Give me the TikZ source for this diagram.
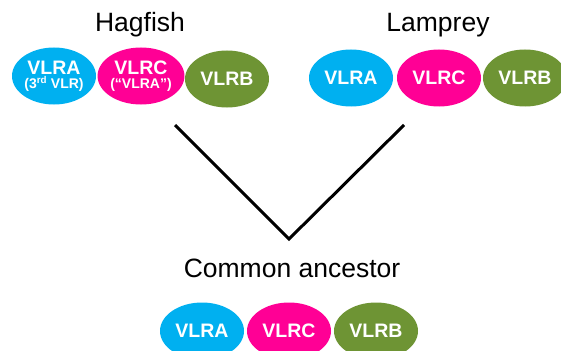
\documentclass[tikz,border=0pt]{standalone}
\usepackage{fontspec}
\setmainfont{Liberation Sans}
\usetikzlibrary{shapes.geometric}
\definecolor{vlracol}{HTML}{00B0F0}
\definecolor{vlrccol}{HTML}{FF0095}
\definecolor{vlrbcol}{HTML}{6E9434}
\tikzset{
  gene/.style={ellipse, inner sep=0pt, minimum width=84pt, minimum height=57pt,
    text=white, font=\fontsize{19.5}{17}\selectfont\bfseries, align=center},
  vlra/.style={gene, fill=vlracol},
  vlrc/.style={gene, fill=vlrccol},
  vlrb/.style={gene, fill=vlrbcol},
  taxon/.style={anchor=base, font=\fontsize{26.5}{28}\selectfont},
  x=1pt, y=-1pt
}
\newcommand{\smallline}[1]{{\fontsize{14}{14}\selectfont #1}}

\begin{document}
\begin{tikzpicture}
      \useasboundingbox (0,0) rectangle (561,350);

      % hagfish
      \node[taxon] (hag) at (140,32) {Hagfish};
      \node[vlra] (h1) at (54,76) {VLRA\\[-3pt]\smallline{(3\textsuperscript{rd} VLR)}};
      \node[vlrc] (h2) at (141,76) {VLRC\\[-3pt]\smallline{(“VLRA”)}};
      \node[vlrb] (h3) at (227,79) {VLRB};

      % lamprey
      \node[taxon] (lam) at (438,32) {Lamprey};
      \node[vlra] (l1) at (351,78) {VLRA};
      \node[vlrc] (l2) at (439,78) {VLRC};
      \node[vlrb] (l3) at (525,78) {VLRB};

      % common ancestor
      \node[taxon] (anc) at (292,277) {Common ancestor};
      \node[vlra] (a1) at (202,331) {VLRA};
      \node[vlrc] (a2) at (289,331) {VLRC};
      \node[vlrb] (a3) at (376,331) {VLRB};

      \coordinate (left) at (175,125);
      \coordinate (split) at (289,239);
      \coordinate (right) at (404,125);
      \draw[line width=3pt] (left) -- (split) -- (right);
    \end{tikzpicture}
\end{document}
